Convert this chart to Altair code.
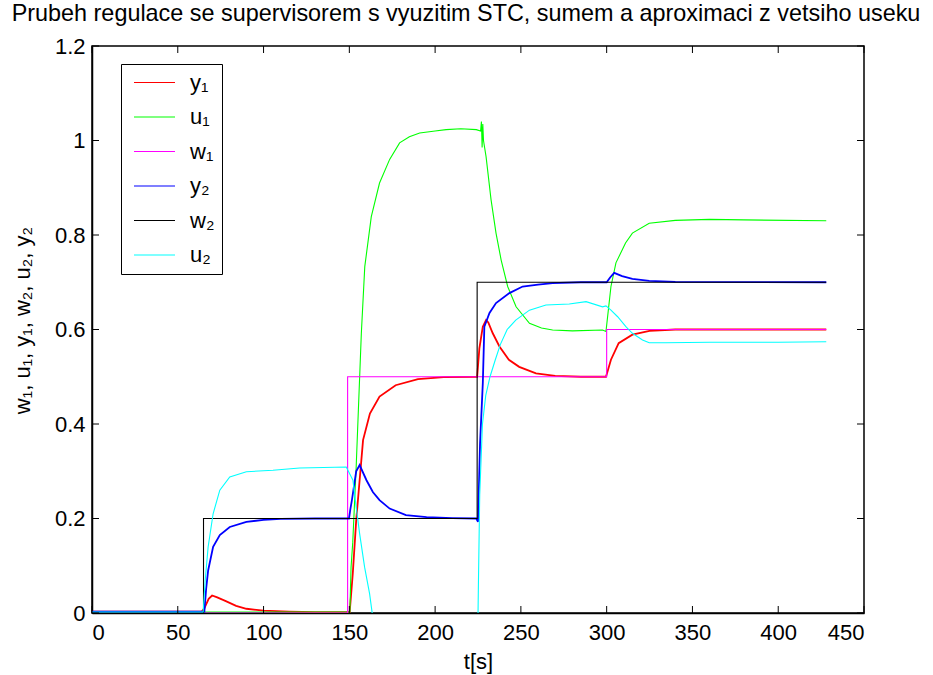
import altair as alt
import pandas as pd

# ---------------- data ----------------
LABELS = ["y₁", "u₁", "w₁", "y₂", "w₂", "u₂"]
COLORS = ["#ff0000", "#00ff00", "#ff00ff", "#0000ff", "#000000", "#00ffff"]

y1_t = [0, 64, 65.5, 68, 70, 73, 78, 84, 90, 100, 115, 130, 150.2, 152, 154, 156, 158,
        162, 167.6, 177, 190, 205, 224.5, 225.8, 227.8, 229.7, 231, 233.6, 237.5, 243,
        249, 258.8, 270, 285, 299.6, 302.5, 307, 315, 325, 340, 428]
y1_v = [0.003, 0.003, 0.01, 0.03, 0.037, 0.033, 0.025, 0.015, 0.009, 0.005, 0.003, 0.002,
        0.002, 0.083, 0.196, 0.281, 0.366, 0.422, 0.458, 0.482, 0.495, 0.499, 0.5, 0.56,
        0.606, 0.62, 0.615, 0.592, 0.564, 0.536, 0.521, 0.507, 0.502, 0.5, 0.5, 0.536,
        0.571, 0.589, 0.597, 0.6, 0.6]

u1_t = [0, 150.3, 151, 152, 154, 157, 159, 162.8, 167.6, 173.5, 179.3, 185, 191, 200,
        206.4, 215, 224, 226.5, 227.0, 227.4, 227.8, 228.2, 229.7, 232.6, 235.5, 238.5,
        242.3, 247.2, 255, 262, 268.5, 280, 297.6, 299.6, 302.5, 305.4, 311, 315, 324.8,
        340, 360, 380, 428]
u1_v = [0.002, 0.002, 0.097, 0.15, 0.31, 0.592, 0.733, 0.839, 0.91, 0.96, 0.995, 1.008,
        1.016, 1.02, 1.023, 1.025, 1.023, 1.02, 1.04, 0.985, 1.035, 1.0, 0.966, 0.875,
        0.804, 0.747, 0.691, 0.648, 0.613, 0.603, 0.599, 0.597, 0.599, 0.596, 0.691,
        0.741, 0.783, 0.804, 0.825, 0.831, 0.833, 0.832, 0.83]

w1_t = [0, 149, 149, 300, 300, 428]
w1_v = [0, 0, 0.5, 0.5, 0.6, 0.6]

w2_t = [0, 65, 65, 224.5, 224.5, 428]
w2_v = [0, 0, 0.2, 0.2, 0.7, 0.7]

y2_t = [0, 65.5, 66.5, 67.7, 70.6, 74.5, 80.3, 90, 100, 110, 130, 149.8, 150.6, 151.5,
        154, 156, 160, 163.7, 167.6, 173.5, 183, 195, 210, 224, 225.0, 226.2, 227.8,
        228.7, 231.7, 235.5, 243.3, 251, 260, 268.5, 285, 300, 302, 304.4, 309, 315,
        324.8, 340, 428]
y2_v = [0.003, 0.003, 0.05, 0.09, 0.14, 0.165, 0.182, 0.193, 0.197, 0.199, 0.2, 0.2,
        0.22, 0.239, 0.30, 0.313, 0.281, 0.256, 0.239, 0.221, 0.207, 0.203, 0.201, 0.2,
        0.193, 0.359, 0.486, 0.606, 0.635, 0.656, 0.677, 0.691, 0.695, 0.698, 0.7, 0.7,
        0.71, 0.72, 0.713, 0.707, 0.703, 0.701, 0.7]

u2_t = [0, 64.8, 66, 67.7, 70.6, 74.5, 80.3, 90, 105.5, 121, 135, 148.2, 152.1, 154,
        156, 158.9, 161.8, 164.7, 168, 224.6, 225.2, 226, 227.6, 229.5, 232, 235, 238,
        242, 247, 255, 264.6, 278.2, 288, 297.6, 299.6, 302.5, 306.4, 311.2, 315, 320.9,
        324.8, 334.5, 360, 400, 428]
u2_v = [0.002, 0.002, 0.07, 0.14, 0.21, 0.26, 0.288, 0.299, 0.302, 0.307, 0.308, 0.309,
        0.281, 0.224, 0.168, 0.097, 0.041, -0.037, -0.12, -0.12, 0.05, 0.25, 0.4, 0.46,
        0.5, 0.535, 0.568, 0.6, 0.62, 0.641, 0.652, 0.654, 0.659, 0.648, 0.65, 0.641,
        0.627, 0.606, 0.592, 0.578, 0.572, 0.572, 0.573, 0.573, 0.574]

X_TICKS = [0, 50, 100, 150, 200, 250, 300, 350, 400, 450]
Y_TICKS = [0, 0.2, 0.4, 0.6, 0.8, 1.0, 1.2]

TITLE = "Prubeh regulace se supervisorem s vyuzitim STC, sumem a aproximaci z vetsiho useku"
X_TITLE = "t[s]"
Y_TITLE = "w₁, u₁, y₁, w₂, u₂, y₂"

# ---------------- build tables ----------------
series = {
    "y₁": (y1_t, y1_v), "u₁": (u1_t, u1_v), "w₁": (w1_t, w1_v),
    "y₂": (y2_t, y2_v), "w₂": (w2_t, w2_v), "u₂": (u2_t, u2_v),
}
rows = []
for name, (ts, vs) in series.items():
    for i, (t, v) in enumerate(zip(ts, vs)):
        rows.append({"s": name, "t": t, "v": v, "i": i})
df = pd.DataFrame(rows)

W, H = 772, 567
FONT = "Liberation Sans"
FS = 22

xscale = alt.Scale(domain=[0, 450], nice=False, zero=False)
yscale = alt.Scale(domain=[0, 1.2], nice=False, zero=False)
cscale = alt.Scale(domain=LABELS, range=COLORS)

x_axis = alt.Axis(values=X_TICKS, labelExpr="'' + datum.value", title=X_TITLE,
                  grid=False, tickSize=0, labelPadding=9, domainColor="black",
                  labelColor="black", titleY=48, titleBaseline="middle")
y_axis = alt.Axis(values=Y_TICKS, labelExpr="'' + datum.value", title=Y_TITLE,
                  grid=False, tickSize=0, labelPadding=7, domainColor="black",
                  labelColor="black", titleX=-70, titleY=274, titleBaseline="middle")

legend = alt.Legend(
    title=None, orient="none", legendX=29, legendY=18,
    symbolType="stroke", symbolSize=1681, symbolStrokeWidth=1.2, symbolOffset=5,
    clipHeight=23, rowPadding=11.5, padding=7,
    labelFontSize=FS, labelFont=FONT, labelColor="black",
    strokeColor="black", fillColor="white", labelOffset=14, labelLimit=200)

layers = []
for k, name in enumerate(LABELS):
    sw = 1.8 if name in ("y₁", "y₂") else 1.1
    layers.append(
        alt.Chart(df).transform_filter(alt.datum.s == name)
        .mark_line(clip=True, strokeWidth=sw)
        .encode(
            x=alt.X("t:Q", scale=xscale, axis=x_axis),
            y=alt.Y("v:Q", scale=yscale, axis=y_axis),
            order="i:Q",
            color=alt.Color("s:N", scale=cscale, legend=legend),
        )
    )

xt = pd.DataFrame({"t": X_TICKS})
yt = pd.DataFrame({"v": Y_TICKS})
TL = 7
tick_layers = [
    alt.Chart(xt).mark_rule(color="black", strokeWidth=1).encode(
        x=alt.X("t:Q", scale=xscale, axis=x_axis), y=alt.value(H), y2=alt.value(H - TL)),
    alt.Chart(xt).mark_rule(color="black", strokeWidth=1).encode(
        x=alt.X("t:Q", scale=xscale, axis=x_axis), y=alt.value(0), y2=alt.value(TL)),
    alt.Chart(yt).mark_rule(color="black", strokeWidth=1).encode(
        y=alt.Y("v:Q", scale=yscale, axis=y_axis), x=alt.value(0), x2=alt.value(TL)),
    alt.Chart(yt).mark_rule(color="black", strokeWidth=1).encode(
        y=alt.Y("v:Q", scale=yscale, axis=y_axis), x=alt.value(W), x2=alt.value(W - TL)),
]

chart = alt.layer(*layers, *tick_layers).properties(
    width=W, height=H, background="white",
    title=alt.TitleParams(TITLE, fontSize=23.4, font=FONT, fontWeight="normal",
                          color="black", anchor="middle", dx=-12, dy=14, offset=0,
                          baseline="bottom"),
    padding={"left": 92, "top": 46, "right": 933 - 92 - W, "bottom": 675 - 46 - H},
    autosize=alt.AutoSizeParams(type="none"),
).configure_view(stroke="black", strokeWidth=1.5).configure_axis(
    labelFont=FONT, labelFontSize=FS, titleFont=FONT, titleFontSize=FS,
    titleFontWeight="normal", titleColor="black", domainWidth=1.5,
)

chart.save("out.html", embed_options={"renderer": "svg", "actions": False})
